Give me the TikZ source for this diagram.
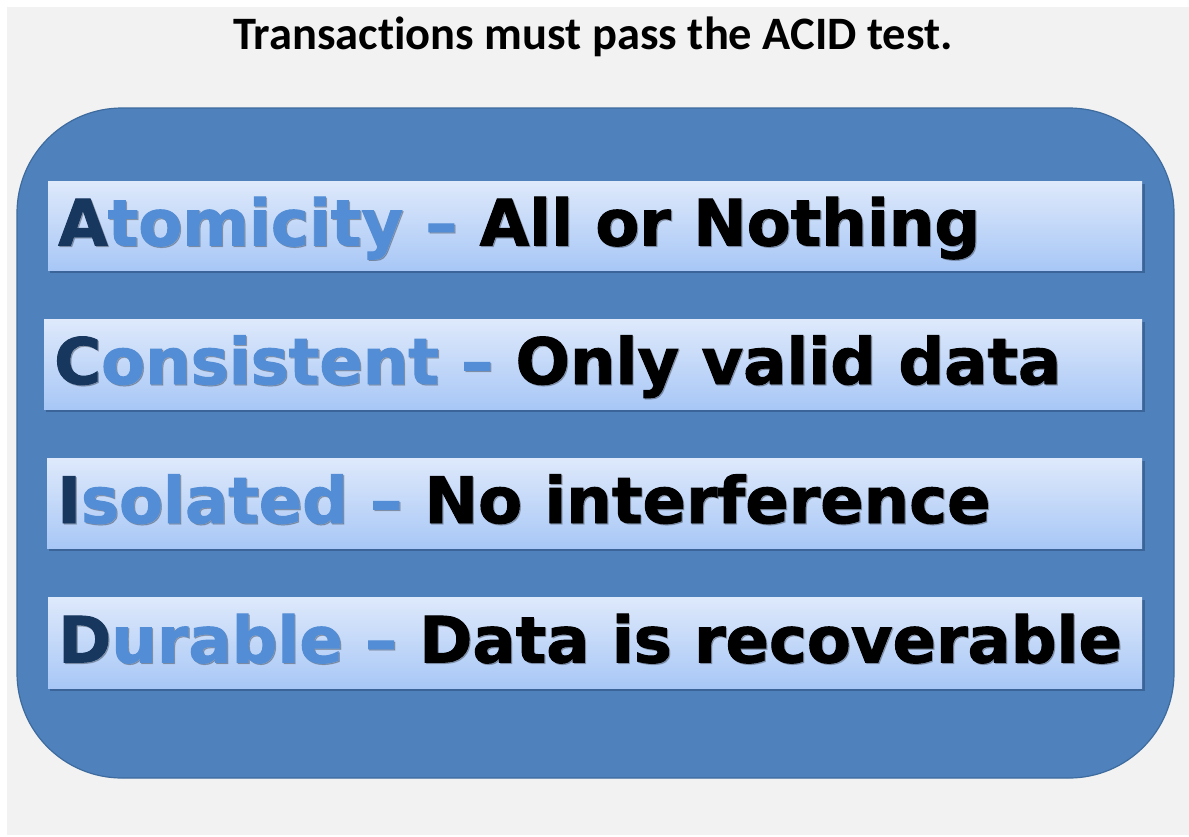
\documentclass[tikz,border=0pt]{standalone}
\usepackage{fontspec}
\setmainfont{DejaVu Sans}
\newfontfamily\titlefont[Ligatures=CommonOff]{Carlito}
\newfontfamily\rowfont[BoldFeatures={FakeBold=1.5}]{DejaVu Sans}
\definecolor{pagegray}{HTML}{F2F2F2}
\definecolor{panelblue}{HTML}{4F81BD}
\definecolor{paneledge}{HTML}{3E6B9E}
\definecolor{barTop}{HTML}{DEE9FB}
\definecolor{barBot}{HTML}{A8C7F6}
\definecolor{barShade}{HTML}{2C4E7C}
\definecolor{initial}{HTML}{17375E}
\definecolor{wordblue}{HTML}{538DD5}
\tikzset{
  x=1pt, y=-1pt,
  panel/.style={fill=panelblue, draw=paneledge, line width=1.2pt, rounded corners=105pt},
  bar/.style={rectangle, top color=barTop, bottom color=barBot, draw=none, inner sep=0pt},
  barshadow/.style={fill=barShade, opacity=0.55, draw=none},
  rowtext/.style={anchor=base west, inner sep=0pt, font=\rowfont\bfseries\fontsize{64}{70}\selectfont},
  rowshadow/.style={rowtext, text=black, opacity=0.22},
  title/.style={anchor=base, inner sep=0pt, font=\titlefont\bfseries\fontsize{46.5}{52}\selectfont}
}
% one property row: bar with drop shadow, then the label with a soft text shadow
% #1 name, #2 left x, #3 top y, #4 bottom y, #5 initial, #6 rest of word, #7 description
\newcommand\acidrow[7]{%
  \fill[barshadow] (#2+2,#3+3) rectangle (1145,#4+3);
  \node[bar, minimum width={1142-#2}, minimum height={#4-#3}, anchor=north west] (#1) at (#2,#3) {};
  \node[rowshadow] at ([xshift=1.2pt,yshift=-1.2pt]#1.west |- 0,{(#3+#4)/2+20}) {\hspace*{10pt}#5#6 – #7};
  \node[rowtext] (#1-label) at ([xshift=10pt]#1.west |- 0,{(#3+#4)/2+20}) {\textcolor{initial}{#5}\textcolor{wordblue}{#6 –} #7};
}
\begin{document}
\begin{tikzpicture}
  \useasboundingbox (0,0) rectangle (1189,836);
  \fill[white] (0,0) rectangle (1189,836);
  \fill[pagegray] (7,7) rectangle (1189,835);

  \node[title] (heading) at (593,49) {Transactions must pass the ACID test.};

  \draw[panel] (17,108) rectangle (1174,778);

  \acidrow{atom}{48}{181}{270}{A}{tomicity}{All or Nothing}
  \acidrow{cons}{44}{319}{409}{C}{onsistent}{Only valid data}
  \acidrow{isol}{47}{458}{548}{I}{solated}{No interference}
  \acidrow{dura}{48}{597}{688}{D}{urable}{Data is recoverable}
\end{tikzpicture}
\end{document}
